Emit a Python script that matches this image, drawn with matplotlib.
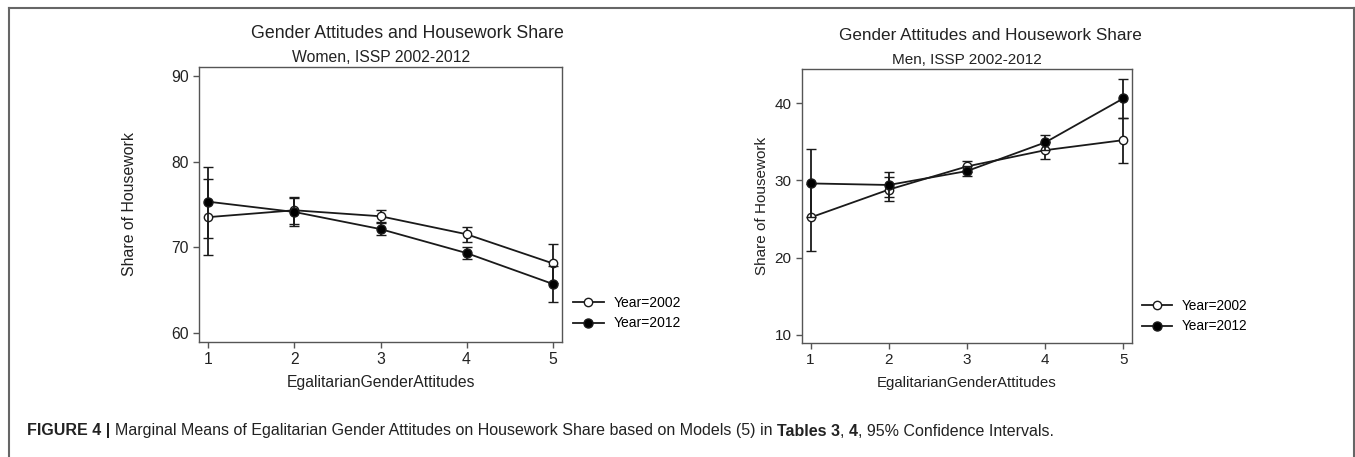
"""
Marginal means of egalitarian gender attitudes on housework share,
women and men, ISSP 2002-2012.
"""

import matplotlib
matplotlib.use("Agg")
import matplotlib.pyplot as plt
from matplotlib.lines import Line2D

plt.rcParams["font.family"] = ["Liberation Sans", "DejaVu Sans"]

attitudes = [1, 2, 3, 4, 5]
x_ticks = [1, 2, 3, 4, 5]

# Women
women_2002 = [73.5, 74.3, 73.6, 71.5, 68.1]
women_2002_lo = [71.1, 72.7, 72.9, 70.6, 65.8]
women_2002_hi = [78.0, 75.9, 74.3, 72.3, 70.4]
women_2012 = [75.3, 74.1, 72.1, 69.3, 65.7]
women_2012_lo = [69.1, 72.5, 71.4, 68.6, 63.6]
women_2012_hi = [79.4, 75.7, 72.8, 70.0, 67.8]
women_yticks = [60, 70, 80, 90]

# Men
men_2002 = [25.2, 28.8, 31.8, 33.9, 35.2]
men_2002_lo = [20.9, 27.3, 31.1, 32.8, 32.2]
men_2002_hi = [29.5, 30.4, 32.5, 35.0, 38.1]
men_2012 = [29.6, 29.4, 31.2, 34.9, 40.6]
men_2012_lo = [25.2, 27.8, 30.6, 33.9, 38.1]
men_2012_hi = [34.0, 31.1, 31.9, 35.9, 43.1]
men_yticks = [10, 20, 30, 40]

W, H = 1355, 457
fig = plt.figure(figsize=(W / 100, H / 100), dpi=100)
fig.patch.set_facecolor("white")


def px_axes(left, top, right, bottom):
    return fig.add_axes([left / W, 1 - bottom / H, (right - left) / W, (bottom - top) / H])


def draw_series(ax, means, lo, hi, filled, label):
    yerr = [[m - l for m, l in zip(means, lo)], [h - m for m, h in zip(means, hi)]]
    ax.errorbar(
        attitudes, means, yerr=yerr,
        color="#1a1a1a", lw=1.3, elinewidth=1.3, capsize=3.5, capthick=1.3,
        marker="o", markersize=6.5 if filled else 6,
        markerfacecolor="black" if filled else "white",
        markeredgecolor="#1a1a1a", markeredgewidth=1.0,
        label=label, zorder=3 if filled else 2,
    )


def style_axes(ax, ylim, yticks, size):
    ax.set_xlim(0.89, 5.11)
    ax.set_ylim(*ylim)
    ax.set_xticks(x_ticks)
    ax.set_yticks(yticks)
    for s in ax.spines.values():
        s.set_color("#555555")
        s.set_linewidth(1.0)
    ax.tick_params(direction="out", length=4, width=1, color="#555555",
                   labelsize=size, labelcolor="#222222")


def add_legend(ax, x, yc, size):
    handles = [
        Line2D([], [], color="#1a1a1a", lw=1.3, marker="o", markersize=6,
               markerfacecolor="white", markeredgecolor="#1a1a1a"),
        Line2D([], [], color="#1a1a1a", lw=1.3, marker="o", markersize=6.5,
               markerfacecolor="black", markeredgecolor="#1a1a1a"),
    ]
    ax.legend(handles, ["Year=2002", "Year=2012"], loc="center left",
              bbox_to_anchor=(x / W, 1 - yc / H), bbox_transform=fig.transFigure,
              frameon=False, prop={"size": size}, handlelength=2.2,
              handletextpad=0.7, labelspacing=0.5, borderpad=0, borderaxespad=0)


# Left panel: women
ax1 = px_axes(199, 67, 562, 342)
draw_series(ax1, women_2002, women_2002_lo, women_2002_hi, False, "Year=2002")
draw_series(ax1, women_2012, women_2012_lo, women_2012_hi, True, "Year=2012")
style_axes(ax1, (58.9, 91.05), women_yticks, 11.3)
add_legend(ax1, 573, 313, 10)

# Right panel: men
ax2 = px_axes(802, 69, 1132, 343)
draw_series(ax2, men_2002, men_2002_lo, men_2002_hi, False, "Year=2002")
draw_series(ax2, men_2012, men_2012_lo, men_2012_hi, True, "Year=2012")
style_axes(ax2, (8.96, 44.4), men_yticks, 11)
add_legend(ax2, 1142, 316, 9.8)


def ftext(x, y, s, **kw):
    return fig.text(x / W, 1 - y / H, s, color="#222222", **kw)


ftext(407, 33, "Gender Attitudes and Housework Share", fontsize=12.8, ha="center", va="center")
ftext(381, 57, "Women, ISSP 2002-2012", fontsize=11.3, ha="center", va="center")
ftext(990, 35, "Gender Attitudes and Housework Share", fontsize=12.3, ha="center", va="center")
ftext(967, 60, "Men, ISSP 2002-2012", fontsize=11, ha="center", va="center")

ftext(381, 383, "EgalitarianGenderAttitudes", fontsize=11.3, ha="center", va="center")
ftext(967, 383, "EgalitarianGenderAttitudes", fontsize=10.8, ha="center", va="center")
ftext(130, 204, "Share of Housework", fontsize=11.4, ha="center", va="center", rotation=90)
ftext(762, 206, "Share of Housework", fontsize=11, ha="center", va="center", rotation=90)

# outer frame (top, left, right)
frame_kw = dict(color="#666666", lw=1.5, transform=fig.transFigure)
fig.add_artist(Line2D([9 / W, 1354 / W], [1 - 8 / H, 1 - 8 / H], **frame_kw))
fig.add_artist(Line2D([9 / W, 9 / W], [0, 1 - 8 / H], **frame_kw))
fig.add_artist(Line2D([1354 / W, 1354 / W], [0, 1 - 8 / H], **frame_kw))

# caption with bold pieces
caption = [
    ("FIGURE 4 | ", "bold"),
    ("Marginal Means of Egalitarian Gender Attitudes on Housework Share based on Models (5) in ", "normal"),
    ("Tables 3", "bold"),
    (", ", "normal"),
    ("4", "bold"),
    (", 95% Confidence Intervals.", "normal"),
]
renderer = fig.canvas.get_renderer()
cx = 27
for piece, weight in caption:
    t = ftext(cx, 431, piece, fontsize=11.5, fontweight=weight, ha="left", va="center")
    bb = t.get_window_extent(renderer=renderer)
    cx += bb.width

fig.savefig("out.png", dpi=100)
